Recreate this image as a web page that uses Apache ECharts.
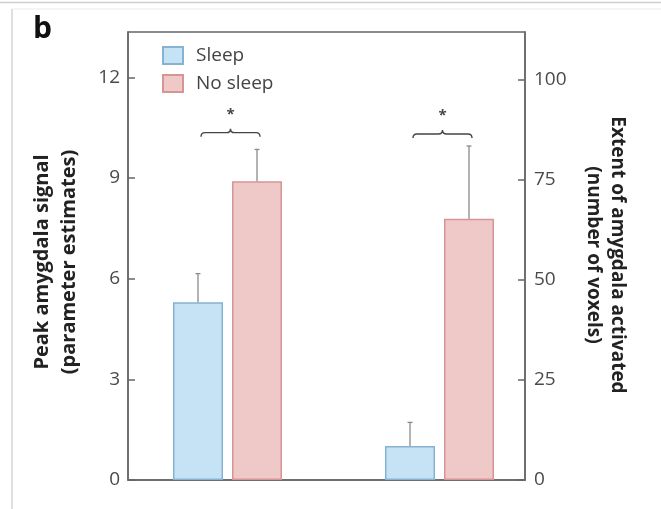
<!DOCTYPE html>
<html><head><meta charset="utf-8">
<script src="https://cdn.jsdelivr.net/npm/echarts@6/dist/echarts.min.js"></script>
<style>html,body{margin:0;padding:0;background:#fff}#c{width:661px;height:509px}</style>
</head><body><div id="c"></div>
<script>
// ---- data ----
const categories = ['Peak amygdala signal', 'Extent of amygdala activated'];
const sleepValues = [5.3, 8.5];
const sleepErrors = [0.85, 5.9];
const noSleepValues = [8.9, 65.3];
const noSleepErrors = [0.95, 18.2];
const leftTicks = [0, 3, 6, 9, 12];
const rightTicks = [0, 25, 50, 75, 100];
const braceLevels = [10.35, 86.5];
const leftTitle = ['Peak amygdala signal', '(parameter estimates)'];
const rightTitle = ['Extent of amygdala activated', '(number of voxels)'];

const FONT = 'Open Sans';
const AX = '#666';
const SLEEP_FILL = '#c6e3f5', SLEEP_LINE = '#86b3d1';
const NS_FILL = '#efc8c8', NS_LINE = '#d69494';
const LEFT_MAX = 13.35, RIGHT_MAX = 112;

const chart = echarts.init(document.getElementById('c'), null, {renderer: 'canvas'});

function only(arr, i) { return arr.map((v, k) => k === i ? v : '-'); }

function renderGroup(params, api) {
  const ci = api.value(0);
  const cx = api.coord([ci, 0])[0];
  const children = [];
  [[1, 2, -29.5], [3, 4, 29.5]].forEach(function (d) {
    const v = api.value(d[0]), e = api.value(d[1]);
    const yTop = api.coord([ci, v])[1];
    const yErr = api.coord([ci, v + e])[1];
    const x = cx + d[2];
    children.push({type: 'line', shape: {x1: x, y1: yTop, x2: x, y2: yErr}, style: {stroke: '#8a8a8a', lineWidth: 1.3}});
    children.push({type: 'line', shape: {x1: x - 2.5, y1: yErr, x2: x + 2.5, y2: yErr}, style: {stroke: '#8a8a8a', lineWidth: 1.3}});
  });
  const by = api.coord([ci, api.value(5)])[1];
  const bx = cx + 3, hw = 29.5;
  const x0 = bx - hw, x1 = bx + hw;
  const p = 'M' + x0 + ' ' + (by + 4) + ' Q' + x0 + ' ' + by + ' ' + (x0 + 4) + ' ' + by +
    ' L' + (bx - 4) + ' ' + by + ' Q' + bx + ' ' + by + ' ' + bx + ' ' + (by - 4) +
    ' Q' + bx + ' ' + by + ' ' + (bx + 4) + ' ' + by +
    ' L' + (x1 - 4) + ' ' + by + ' Q' + x1 + ' ' + by + ' ' + x1 + ' ' + (by + 4);
  children.push({type: 'path', shape: {pathData: p}, style: {stroke: '#444', lineWidth: 1.4, fill: null}});
  children.push({type: 'text', style: {text: '*', x: bx, y: by - 18, fill: '#444', font: 'bold 15px ' + FONT, textAlign: 'center', textVerticalAlign: 'middle'}});
  return {type: 'group', children: children};
}

function groupData(i) {
  return [[i, sleepValues[i], sleepErrors[i], noSleepValues[i], noSleepErrors[i], braceLevels[i]]];
}

const barBase = {type: 'bar', xAxisIndex: 1, barWidth: 50, barGap: '18%'};
const sleepStyle = {color: SLEEP_FILL, borderColor: SLEEP_LINE, borderWidth: 1.5};
const nsStyle = {color: NS_FILL, borderColor: NS_LINE, borderWidth: 1.5};

const option = {
  animation: false,
  backgroundColor: '#fff',
  textStyle: {fontFamily: FONT},
  grid: [
    {left: 128, right: 136, top: 32, bottom: 29, show: true, borderColor: AX, borderWidth: 1.5, backgroundColor: 'transparent'},
    {left: 121.5, right: 115.5, top: 32, bottom: 29}
  ],
  legend: {
    orient: 'vertical', left: 162, top: 46, padding: 0, itemWidth: 20, itemHeight: 17, itemGap: 9,
    icon: 'rect', data: ['Sleep', 'No sleep'],
    textStyle: {fontSize: 19, color: '#444', fontFamily: FONT, padding: [0, 0, 0, 8]}
  },
  xAxis: [
    {type: 'category', gridIndex: 0, data: categories, axisLine: {lineStyle: {color: AX, width: 1.5}}, axisTick: {show: false}, axisLabel: {show: false}},
    {type: 'category', gridIndex: 1, data: categories, show: false}
  ],
  yAxis: [
    {type: 'value', gridIndex: 0, position: 'left', min: 0, max: LEFT_MAX, splitLine: {show: false},
      axisLine: {show: true, lineStyle: {color: AX, width: 1.5}},
      axisTick: {show: true, inside: true, length: 7, customValues: leftTicks, lineStyle: {color: AX, width: 1.5}},
      axisLabel: {customValues: leftTicks, fontSize: 19, color: '#4a4a4a', margin: 8, fontFamily: FONT}},
    {type: 'value', gridIndex: 0, position: 'right', min: 0, max: RIGHT_MAX, splitLine: {show: false},
      axisLine: {show: true, lineStyle: {color: AX, width: 1.5}},
      axisTick: {show: true, inside: true, length: 7, customValues: rightTicks, lineStyle: {color: AX, width: 1.5}},
      axisLabel: {customValues: rightTicks, fontSize: 19, color: '#4a4a4a', margin: 9, fontFamily: FONT}},
    {type: 'value', gridIndex: 1, min: 0, max: LEFT_MAX, show: false},
    {type: 'value', gridIndex: 1, min: 0, max: RIGHT_MAX, show: false}
  ],
  series: [
    Object.assign({}, barBase, {name: 'Sleep', yAxisIndex: 2, stack: 's', data: only(sleepValues, 0), itemStyle: sleepStyle}),
    Object.assign({}, barBase, {name: 'No sleep', yAxisIndex: 2, stack: 'n', data: only(noSleepValues, 0), itemStyle: nsStyle}),
    Object.assign({}, barBase, {name: 'Sleep', yAxisIndex: 3, stack: 's', data: only(sleepValues, 1), itemStyle: sleepStyle}),
    Object.assign({}, barBase, {name: 'No sleep', yAxisIndex: 3, stack: 'n', data: only(noSleepValues, 1), itemStyle: nsStyle}),
    {type: 'custom', xAxisIndex: 1, yAxisIndex: 2, renderItem: renderGroup, data: groupData(0), z: 5, silent: true},
    {type: 'custom', xAxisIndex: 1, yAxisIndex: 3, renderItem: renderGroup, data: groupData(1), z: 5, silent: true}
  ],
  graphic: [
    {type: 'line', shape: {x1: 0, y1: 2.5, x2: 661, y2: 2.5}, style: {stroke: '#cfcfcf', lineWidth: 1.5}, silent: true},
    {type: 'line', shape: {x1: 12, y1: 9, x2: 661, y2: 9}, style: {stroke: '#ececec', lineWidth: 1.2}, silent: true},
    {type: 'line', shape: {x1: 12, y1: 9, x2: 12, y2: 509}, style: {stroke: '#d4d4d4', lineWidth: 1.5}, silent: true},
    {type: 'text', left: 33, top: 14, style: {text: 'b', font: 'bold 30px ' + FONT, fill: '#111'}},
    {type: 'text', x: 56, y: 262, rotation: Math.PI / 2,
      style: {text: leftTitle.join('\n'), font: 'bold 20px ' + FONT, fill: '#222', textAlign: 'center', textVerticalAlign: 'middle', lineHeight: 27}},
    {type: 'text', x: 605, y: 255, rotation: -Math.PI / 2,
      style: {text: rightTitle.join('\n'), font: 'bold 19px ' + FONT, fill: '#222', textAlign: 'center', textVerticalAlign: 'middle', lineHeight: 24}}
  ]
};
chart.setOption(option);
</script>
</body></html>
